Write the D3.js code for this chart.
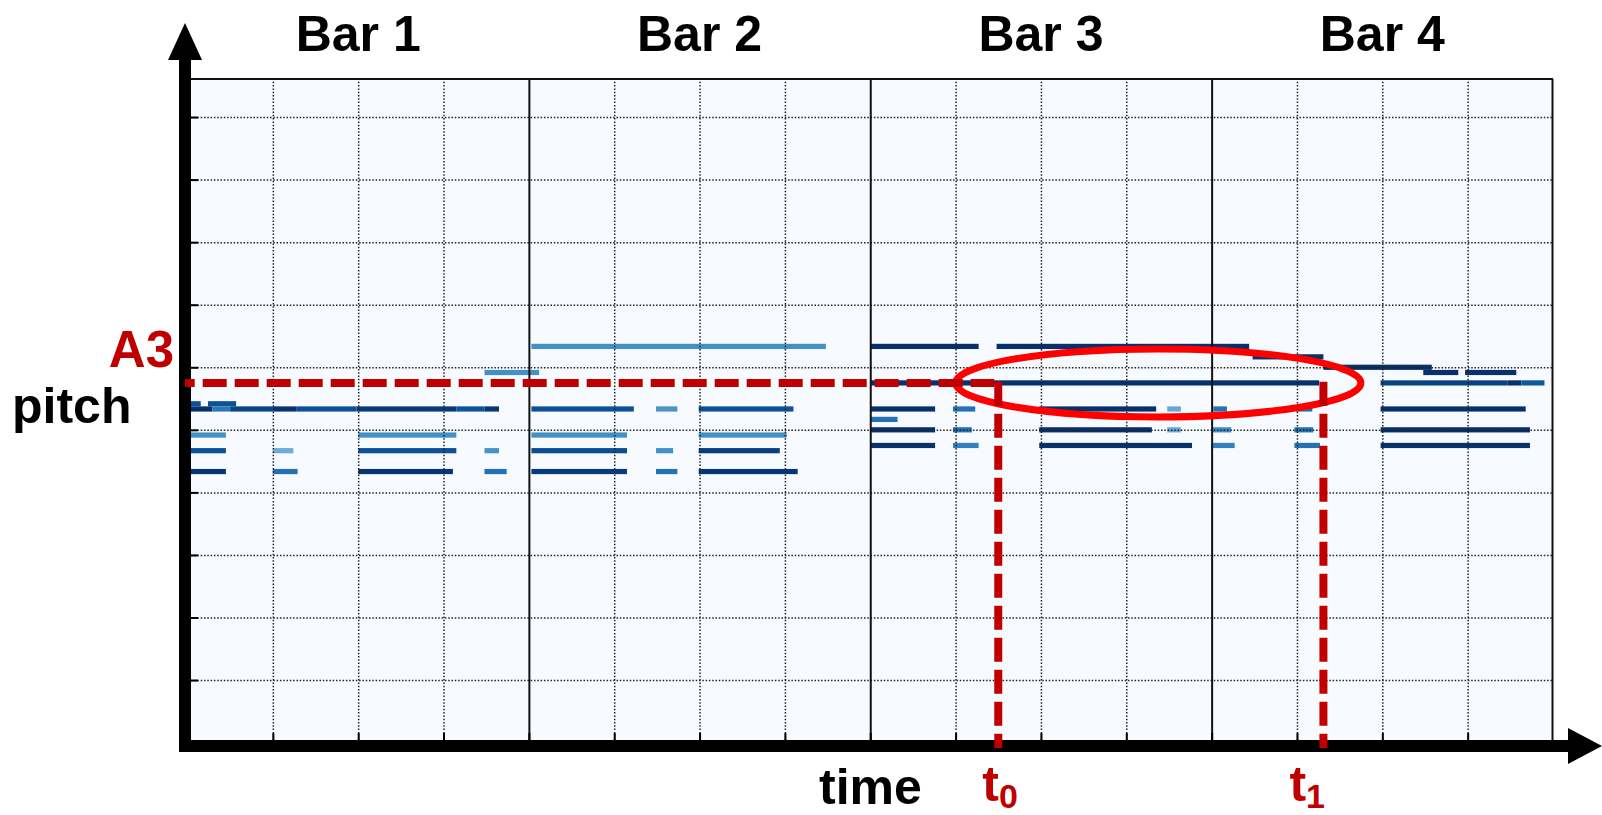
<!DOCTYPE html>
<html><head><meta charset="utf-8">
<script src="https://cdn.jsdelivr.net/npm/d3@7"></script>
<style>
html,body{margin:0;padding:0;background:#fff;}
svg{display:block;}
text{font-family:"Liberation Sans",Arial,Helvetica,sans-serif;font-weight:bold;}
</style>
</head><body>
<svg id="chart" width="1602" height="815"></svg>
<script>
// ---------- data ----------
const barLabels = ["Bar 1", "Bar 2", "Bar 3", "Bar 4"];
const beatsPerBar = 4;
const pitchTicks = [0, 12, 24, 36, 48, 60, 72, 84, 96, 108];
const highlightPitch = 57;          // A3
const highlightLabel = "A3";
const t0 = 9.5, t1 = 13.31;          // onset / offset (beats)

// [pitch, startBeat, endBeat, velocity]
const bar1Notes = [
  [53, 0.00, 0.155, 111], [53, 0.24, 0.57, 111],
  [52, 0.00, 0.29, 127], [52, 0.29, 0.50, 92], [52, 0.50, 1.00, 118],
  [52, 1.00, 1.28, 125], [52, 1.28, 1.98, 112], [52, 1.98, 3.15, 122],
  [52, 3.15, 3.48, 110], [52, 3.48, 3.65, 124],
  [47, 0.00, 0.45, 80], [47, 2.00, 3.15, 80],
  [44, 0.00, 0.45, 111], [44, 1.00, 1.24, 64], [44, 2.00, 3.15, 111], [44, 3.48, 3.65, 78],
  [40, 0.00, 0.45, 125], [40, 1.00, 1.29, 95], [40, 2.00, 3.11, 125], [40, 3.48, 3.74, 95],
  [59, 3.48, 4.12, 80]
];
const bar2Notes = [
  [64, 4.03, 7.48, 80],
  [52, 4.03, 5.23, 111], [52, 5.49, 5.74, 78], [52, 5.99, 7.10, 111],
  [47, 4.03, 5.15, 80], [47, 5.99, 7.02, 80],
  [44, 4.03, 5.15, 113], [44, 5.49, 5.69, 80], [44, 5.99, 6.94, 120],
  [40, 4.03, 5.15, 122], [40, 5.49, 5.74, 95], [40, 5.99, 7.15, 124]
];
const bar3Notes = [
  [64, 8.01, 9.27, 127], [64, 9.48, 12.44, 127],
  [57, 8.01, 9.50, 127], [57, 9.50, 13.26, 127],
  [52, 8.01, 8.76, 127], [52, 8.97, 9.23, 95], [52, 9.98, 11.35, 127], [52, 11.48, 11.64, 66],
  [50, 8.01, 8.32, 95],
  [48, 8.01, 8.76, 127], [48, 8.97, 9.19, 95], [48, 9.98, 11.30, 127], [48, 11.48, 11.64, 66],
  [45, 8.01, 8.76, 127], [45, 8.97, 9.27, 88], [45, 9.98, 11.77, 127]
];
const bar4Notes = [
  [62, 12.48, 13.31, 127],
  [60, 13.31, 14.58, 127],
  [59, 14.48, 14.89, 127], [59, 14.97, 15.57, 127],
  [57, 13.98, 15.47, 118], [57, 15.47, 15.63, 127], [57, 15.63, 15.90, 108],
  [52, 12.02, 12.18, 95], [52, 12.99, 13.18, 95], [52, 13.98, 15.68, 127],
  [48, 12.01, 12.23, 82], [48, 12.97, 13.19, 95], [48, 13.98, 15.73, 127],
  [45, 12.00, 12.27, 88], [45, 12.97, 13.27, 95], [45, 13.98, 15.73, 127]
];

// ---------- layout ----------
const totalBeats = barLabels.length * beatsPerBar;
const plot = {left: 187.5, right: 1553, top: 79, bottom: 740};
const x = d3.scaleLinear().domain([0, totalBeats]).range([plot.left, plot.right]);
const y = d3.scaleLinear().domain([-11.5, 115.3]).range([plot.bottom, plot.top]);
const color = d3.scaleSequential(d3.interpolateBlues).domain([0, 127]);
const darkRed = "#c00000";

const svg = d3.select("#chart");

// background
svg.append("rect").attr("x", plot.left).attr("y", plot.top)
  .attr("width", plot.right - plot.left).attr("height", plot.bottom - plot.top)
  .attr("fill", "#f7fbff");

// notes
const allNotes = [].concat(bar1Notes, bar2Notes, bar3Notes, bar4Notes);
svg.append("g").selectAll("rect").data(allNotes).join("rect")
  .attr("x", d => x(d[1]))
  .attr("width", d => x(d[2]) - x(d[1]))
  .attr("y", d => y(d[0] + 0.5))
  .attr("height", d => y(d[0] - 0.5) - y(d[0] + 0.5))
  .attr("fill", d => color(d[3]));

// dotted grid
const beatTicks = d3.range(1, totalBeats).filter(b => b % beatsPerBar !== 0);
const barTicks = d3.range(1, barLabels.length).map(i => i * beatsPerBar);

const gy = svg.append("g").attr("transform", `translate(${plot.left},0)`)
  .call(d3.axisLeft(y).tickValues(pitchTicks).tickSize(-(plot.right - plot.left)).tickFormat(""));
const gx = svg.append("g").attr("transform", `translate(0,${plot.bottom})`)
  .call(d3.axisBottom(x).tickValues(beatTicks).tickSize(-(plot.bottom - plot.top)).tickFormat(""));
[gy, gx].forEach(g => {
  g.select(".domain").remove();
  g.selectAll("line").attr("stroke", "#222").attr("stroke-width", 1.5).attr("stroke-dasharray", "1.5,1.8");
});

// bar lines (solid)
const gb = svg.append("g").attr("transform", `translate(0,${plot.bottom})`)
  .call(d3.axisBottom(x).tickValues(barTicks).tickSize(-(plot.bottom - plot.top)).tickFormat(""));
gb.select(".domain").remove();
gb.selectAll("line").attr("stroke", "#111").attr("stroke-width", 2);

// frame top/right
svg.append("line").attr("x1", plot.left).attr("x2", plot.right).attr("y1", plot.top).attr("y2", plot.top)
  .attr("stroke", "#111").attr("stroke-width", 2);
svg.append("line").attr("x1", plot.right - 0.5).attr("x2", plot.right - 0.5).attr("y1", plot.top).attr("y2", plot.bottom)
  .attr("stroke", "#111").attr("stroke-width", 2);

// inward ticks
const ty = svg.append("g").attr("transform", "translate(185,0)")
  .call(d3.axisLeft(y).tickValues(pitchTicks).tickSize(-13).tickFormat(""));
const tx = svg.append("g").attr("transform", "translate(0,746)")
  .call(d3.axisBottom(x).tickValues(d3.range(1, totalBeats)).tickSize(-13).tickFormat(""));
[ty, tx].forEach(g => {
  g.select(".domain").remove();
  g.selectAll("line").attr("stroke", "#000").attr("stroke-width", 2);
});

// thick axes with arrows
svg.append("line").attr("x1", 185).attr("x2", 185).attr("y1", 752).attr("y2", 58)
  .attr("stroke", "#000").attr("stroke-width", 12);
svg.append("line").attr("x1", 179).attr("x2", 1570).attr("y1", 746).attr("y2", 746)
  .attr("stroke", "#000").attr("stroke-width", 12);
svg.append("polygon").attr("points", "168,60 202,60 185,23").attr("fill", "#000");
svg.append("polygon").attr("points", "1568,728 1568,764 1602,746").attr("fill", "#000");

// highlight ellipse
svg.append("ellipse")
  .attr("cx", x(11.375)).attr("cy", y(highlightPitch))
  .attr("rx", x(11.375 + 2.374) - x(11.375)).attr("ry", y(highlightPitch) - y(highlightPitch + 6.52))
  .attr("fill", "none").attr("stroke", "#ff0000").attr("stroke-width", 7);

// red dashed guides
const yA = y(highlightPitch);
svg.append("line").attr("x1", 185).attr("x2", x(t0) - 4).attr("y1", yA).attr("y2", yA)
  .attr("stroke", darkRed).attr("stroke-width", 8)
  .attr("stroke-dasharray", "24,8").attr("stroke-dashoffset", 14.3);
[t0, t1].forEach(t => {
  svg.append("line").attr("x1", x(t)).attr("x2", x(t)).attr("y1", yA - 1.2).attr("y2", 748)
    .attr("stroke", darkRed).attr("stroke-width", 8).attr("stroke-dasharray", "24,8");
});

// bar labels
svg.append("g").selectAll("text").data(barLabels).join("text")
  .attr("x", (d, i) => x(i * beatsPerBar + beatsPerBar / 2))
  .attr("y", 51).attr("text-anchor", "middle").attr("font-size", 50).attr("fill", "#000")
  .text(d => d);

// axis labels
svg.append("text").attr("x", 174).attr("y", 367).attr("text-anchor", "end")
  .attr("font-size", 51).attr("fill", darkRed).text(highlightLabel);
svg.append("text").attr("x", 12).attr("y", 423).attr("font-size", 50).attr("fill", "#000").text("pitch");
svg.append("text").attr("x", 819).attr("y", 804).attr("font-size", 50).attr("fill", "#000").text("time");

function tLabel(xPos, sub) {
  const t = svg.append("text").attr("x", xPos).attr("y", 801).attr("font-size", 50).attr("fill", darkRed);
  t.append("tspan").text("t");
  t.append("tspan").attr("font-size", 34).attr("dy", 7).text(sub);
}
tLabel(x(t0) - 16, "0");
tLabel(x(t1) - 34, "1");
</script>
</body></html>
